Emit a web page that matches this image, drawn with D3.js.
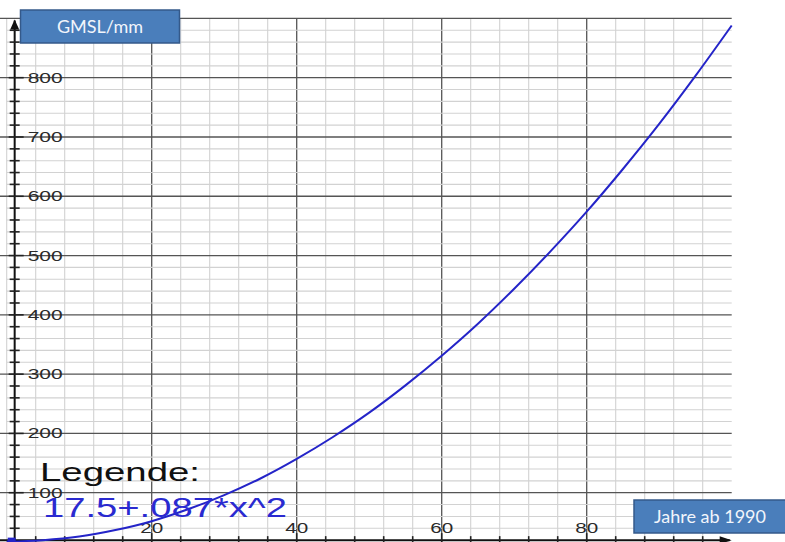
<!DOCTYPE html>
<html><head><meta charset="utf-8">
<script src="https://cdn.jsdelivr.net/npm/d3@7"></script>
<style>html,body{margin:0;padding:0;background:#fff;}svg{display:block;}</style>
</head><body>
<svg id="c" width="785" height="542"></svg>
<script>
// ---- data ----
const years = [0,5,10,15,20,25,30,35,40,45,50,55,60,65,70,75,80,85,90,95,100];
const gmsl  = [17.5,20,26,37,52,72,96,124,157,194,235,281,331,385,444,507,574,646,722,803,888];
const yTickLabels = [100,200,300,400,500,600,700,800];
const xTickLabels = [20,40,60,80];
const legendTitle = "Legende:";
const legendFormula = "17.5+.087*x^2";
const yAxisTitle = "GMSL/mm";
const xAxisTitle = "Jahre ab 1990";
const xDomain = [0,100], yDomain = [0,900];
const axisCrossX = 1.1, axisCrossY = 20;

const svg = d3.select("#c");
const x = d3.scaleLinear().domain(xDomain).range([6.7, 731.7]);
const y = d3.scaleLinear().domain(yDomain).range([552, 18.4]);

// grid
const vVals = d3.range(0, 100, 4);
const hVals = d3.range(40, 901, 20);
const g = svg.append("g");
g.selectAll("line.v").data(vVals).join("line")
  .attr("x1", d => x(d)).attr("x2", d => x(d))
  .attr("y1", y(900)).attr("y2", y(0))
  .attr("stroke", d => d % 20 === 0 && d > 0 ? "#555" : "#d2d2d2")
  .attr("stroke-width", d => d % 20 === 0 && d > 0 ? 1.3 : 1.1);
g.selectAll("line.h").data(hVals).join("line")
  .attr("x1", d => d % 100 === 0 ? 0 : x(0)).attr("x2", x(100))
  .attr("y1", d => y(d)).attr("y2", d => y(d))
  .attr("stroke", d => d % 100 === 0 ? "#555" : "#d2d2d2")
  .attr("stroke-width", d => d % 100 === 0 ? 1.3 : 1.1);

// axes
const ax = x(axisCrossX), ay = y(axisCrossY);
svg.append("line").attr("x1", ax).attr("x2", ax).attr("y1", y(900)+2).attr("y2", 542)
  .attr("stroke", "#111").attr("stroke-width", 2);
svg.append("line").attr("x1", 0).attr("x2", x(100)-2).attr("y1", ay).attr("y2", ay)
  .attr("stroke", "#111").attr("stroke-width", 2);
// y ticks
svg.selectAll("line.yt").data(d3.range(40, 900, 20)).join("line")
  .attr("x1", d => d % 100 === 0 ? ax - 6 : ax - 5)
  .attr("x2", d => d % 100 === 0 ? ax + 9 : ax + 5)
  .attr("y1", d => y(d)).attr("y2", d => y(d))
  .attr("stroke", "#222").attr("stroke-width", 1.6);
// x ticks
svg.selectAll("line.xt").data(d3.range(4, 100, 4)).join("line")
  .attr("x1", d => x(d)).attr("x2", d => x(d))
  .attr("y1", d => d % 20 === 0 ? ay - 7 : ay - 4).attr("y2", 542)
  .attr("stroke", "#222").attr("stroke-width", 1.6);
// arrows
svg.append("path")
  .attr("d", `M${ax},${y(900)+1} L${ax-4.5},${y(900)+11} L${ax+4.5},${y(900)+11} Z`)
  .attr("fill", "#111");
svg.append("path")
  .attr("d", `M${x(100)},${ay} L${x(100)-12},${ay-4} L${x(100)-12},${ay+4} Z`)
  .attr("fill", "#111");

// tick labels
svg.selectAll("text.yl").data(yTickLabels).join("text")
  .attr("x", ax + 13).attr("y", d => y(d) + 5)
  .attr("font-family", "Liberation Sans, Arial, sans-serif").attr("font-size", 14)
  .attr("fill", "#2a2a2a").attr("textLength", 35).attr("lengthAdjust", "spacingAndGlyphs")
  .text(d => d);
svg.selectAll("text.xl").data(xTickLabels).join("text")
  .attr("x", d => x(d) - 11.5).attr("y", ay - 7)
  .attr("font-family", "Liberation Sans, Arial, sans-serif").attr("font-size", 14)
  .attr("fill", "#2a2a2a").attr("textLength", 23).attr("lengthAdjust", "spacingAndGlyphs")
  .text(d => d);

// curve
const line = d3.line().x((d,i) => x(years[i])).y(d => y(d)).curve(d3.curveMonotoneX);
svg.append("path").datum(gmsl).attr("d", line)
  .attr("fill", "none").attr("stroke", "#2424c8").attr("stroke-width", 2);
svg.append("rect").attr("x", x(years[0]) + 1).attr("y", y(gmsl[0]) - 4)
  .attr("width", 8).attr("height", 6).attr("fill", "#2424c8");

// legend
svg.append("text").attr("x", 40).attr("y", 481)
  .attr("font-family", "Liberation Sans, Arial, sans-serif").attr("font-size", 25)
  .attr("fill", "#111").attr("textLength", 160).attr("lengthAdjust", "spacingAndGlyphs")
  .text(legendTitle);
svg.append("text").attr("x", 43).attr("y", 517)
  .attr("font-family", "Liberation Sans, Arial, sans-serif").attr("font-size", 28)
  .attr("fill", "#2a2ad0").attr("textLength", 244).attr("lengthAdjust", "spacingAndGlyphs")
  .text(legendFormula);

// title boxes
function box(bx, by, bw, bh, label) {
  svg.append("rect").attr("x", bx).attr("y", by).attr("width", bw).attr("height", bh)
    .attr("fill", "#4a7ebb").attr("stroke", "#34598a").attr("stroke-width", 1.5);
  svg.append("text").attr("x", bx + bw/2).attr("y", by + bh/2 + 6.5)
    .attr("text-anchor", "middle").attr("font-family", "Lato, 'Open Sans', sans-serif")
    .attr("font-size", 18).attr("fill", "#f2f5fb").text(label);
}
box(20.5, 10, 159, 33, yAxisTitle);
box(634, 500, 152, 33, xAxisTitle);
</script>
</body></html>
